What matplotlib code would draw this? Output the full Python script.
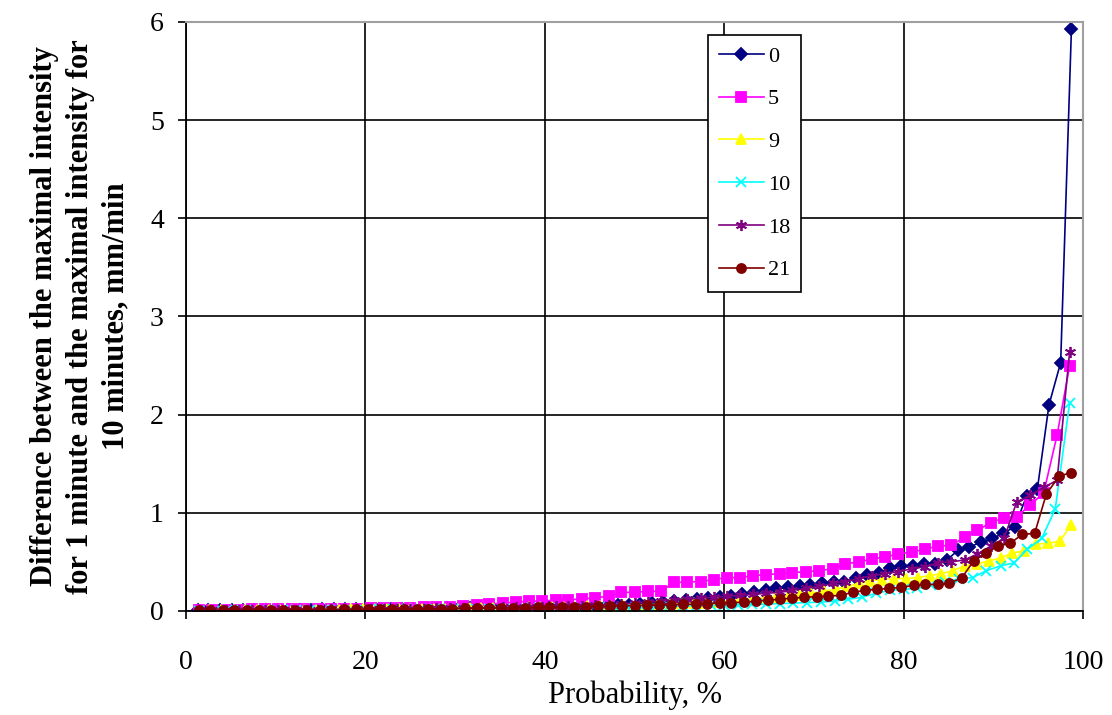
import matplotlib
matplotlib.use("Agg")
import matplotlib.pyplot as plt

plt.rcParams['font.family'] = ['Liberation Serif', 'DejaVu Serif']

# probability positions (%) for each record length
x_78 = [1.3, 2.5, 3.8, 5.1, 6.3, 7.6, 8.9, 10.1, 11.4, 12.7,
        13.9, 15.2, 16.5, 17.7, 19.0, 20.3, 21.5, 22.8, 24.1, 25.3,
        26.6, 27.8, 29.1, 30.4, 31.6, 32.9, 34.2, 35.4, 36.7, 38.0,
        39.2, 40.5, 41.8, 43.0, 44.3, 45.6, 46.8, 48.1, 49.4, 50.6,
        51.9, 53.2, 54.4, 55.7, 57.0, 58.2, 59.5, 60.8, 62.0, 63.3,
        64.6, 65.8, 67.1, 68.4, 69.6, 70.9, 72.2, 73.4, 74.7, 75.9,
        77.2, 78.5, 79.7, 81.0, 82.3, 83.5, 84.8, 86.1, 87.3, 88.6,
        89.9, 91.1, 92.4, 93.7, 94.9, 96.2, 97.5, 98.7]

x_67 = [1.5, 2.9, 4.4, 5.9, 7.4, 8.8, 10.3, 11.8, 13.2, 14.7,
        16.2, 17.6, 19.1, 20.6, 22.1, 23.5, 25.0, 26.5, 27.9, 29.4,
        30.9, 32.4, 33.8, 35.3, 36.8, 38.2, 39.7, 41.2, 42.6, 44.1,
        45.6, 47.1, 48.5, 50.0, 51.5, 52.9, 54.4, 55.9, 57.4, 58.8,
        60.3, 61.8, 63.2, 64.7, 66.2, 67.6, 69.1, 70.6, 72.1, 73.5,
        75.0, 76.5, 77.9, 79.4, 80.9, 82.4, 83.8, 85.3, 86.8, 88.2,
        89.7, 91.2, 92.6, 94.1, 95.6, 97.1, 98.5]

x_75 = [1.3, 2.6, 3.9, 5.3, 6.6, 7.9, 9.2, 10.5, 11.8, 13.2,
        14.5, 15.8, 17.1, 18.4, 19.7, 21.1, 22.4, 23.7, 25.0, 26.3,
        27.6, 28.9, 30.3, 31.6, 32.9, 34.2, 35.5, 36.8, 38.2, 39.5,
        40.8, 42.1, 43.4, 44.7, 46.1, 47.4, 48.7, 50.0, 51.3, 52.6,
        53.9, 55.3, 56.6, 57.9, 59.2, 60.5, 61.8, 63.2, 64.5, 65.8,
        67.1, 68.4, 69.7, 71.1, 72.4, 73.7, 75.0, 76.3, 77.6, 78.9,
        80.3, 81.6, 82.9, 84.2, 85.5, 86.8, 88.2, 89.5, 90.8, 92.1,
        93.4, 94.7, 96.1, 97.4, 98.7]

x_64 = [1.5, 3.1, 4.6, 6.2, 7.7, 9.2, 10.8, 12.3, 13.8, 15.4,
        16.9, 18.5, 20.0, 21.5, 23.1, 24.6, 26.2, 27.7, 29.2, 30.8,
        32.3, 33.8, 35.4, 36.9, 38.5, 40.0, 41.5, 43.1, 44.6, 46.2,
        47.7, 49.2, 50.8, 52.3, 53.8, 55.4, 56.9, 58.5, 60.0, 61.5,
        63.1, 64.6, 66.2, 67.7, 69.2, 70.8, 72.3, 73.8, 75.4, 76.9,
        78.5, 80.0, 81.5, 83.1, 84.6, 86.2, 87.7, 89.2, 90.8, 92.3,
        93.8, 95.4, 96.9, 98.5]

x_73 = [1.4, 2.7, 4.1, 5.4, 6.8, 8.1, 9.5, 10.8, 12.2, 13.5,
        14.9, 16.2, 17.6, 18.9, 20.3, 21.6, 23.0, 24.3, 25.7, 27.0,
        28.4, 29.7, 31.1, 32.4, 33.8, 35.1, 36.5, 37.8, 39.2, 40.5,
        41.9, 43.2, 44.6, 45.9, 47.3, 48.6, 50.0, 51.4, 52.7, 54.1,
        55.4, 56.8, 58.1, 59.5, 60.8, 62.2, 63.5, 64.9, 66.2, 67.6,
        68.9, 70.3, 71.6, 73.0, 74.3, 75.7, 77.0, 78.4, 79.7, 81.1,
        82.4, 83.8, 85.1, 86.5, 87.8, 89.2, 90.5, 91.9, 93.2, 94.6,
        95.9, 97.3, 98.6]

# difference between max 1-min and max 10-min intensity, mm/min
y_0 = [0.005, 0.007, 0.008, 0.009, 0.010, 0.010, 0.011, 0.012, 0.012, 0.013,
       0.014, 0.015, 0.016, 0.017, 0.018, 0.019, 0.020, 0.021, 0.022, 0.023,
       0.024, 0.025, 0.026, 0.027, 0.028, 0.029, 0.030, 0.031, 0.032, 0.033,
       0.035, 0.037, 0.040, 0.043, 0.046, 0.050, 0.055, 0.060, 0.065, 0.070,
       0.080, 0.090, 0.100, 0.110, 0.120, 0.130, 0.140, 0.150, 0.170, 0.190,
       0.210, 0.230, 0.240, 0.250, 0.260, 0.280, 0.290, 0.300, 0.340, 0.370,
       0.390, 0.440, 0.460, 0.460, 0.480, 0.480, 0.520, 0.620, 0.650, 0.700,
       0.740, 0.790, 0.860, 1.170, 1.240, 2.100, 2.530, 5.930]

y_5 = [0.010, 0.012, 0.013, 0.014, 0.015, 0.016, 0.017, 0.018, 0.019, 0.020,
       0.021, 0.022, 0.024, 0.027, 0.030, 0.032, 0.035, 0.038, 0.040, 0.045,
       0.050, 0.060, 0.070, 0.080, 0.090, 0.100, 0.100, 0.110, 0.115, 0.120,
       0.135, 0.150, 0.190, 0.190, 0.200, 0.200, 0.290, 0.295, 0.300, 0.320,
       0.340, 0.340, 0.360, 0.370, 0.380, 0.390, 0.400, 0.410, 0.430, 0.480,
       0.500, 0.530, 0.550, 0.580, 0.600, 0.630, 0.660, 0.670, 0.750, 0.820,
       0.900, 0.950, 0.960, 1.080, 1.200, 1.790, 2.500]

y_9 = [0.004, 0.005, 0.006, 0.007, 0.008, 0.009, 0.010, 0.010, 0.011, 0.012,
       0.013, 0.013, 0.014, 0.015, 0.016, 0.017, 0.018, 0.019, 0.020, 0.021,
       0.022, 0.023, 0.025, 0.026, 0.028, 0.030, 0.032, 0.034, 0.036, 0.038,
       0.040, 0.042, 0.045, 0.048, 0.050, 0.053, 0.056, 0.060, 0.063, 0.067,
       0.070, 0.075, 0.080, 0.085, 0.090, 0.100, 0.110, 0.120, 0.130, 0.140,
       0.150, 0.160, 0.180, 0.200, 0.220, 0.250, 0.280, 0.310, 0.320, 0.330,
       0.330, 0.340, 0.360, 0.380, 0.410, 0.460, 0.480, 0.510, 0.540, 0.590,
       0.610, 0.680, 0.690, 0.710, 0.880]

y_10 = [0.003, 0.004, 0.005, 0.006, 0.007, 0.008, 0.009, 0.010, 0.010, 0.011,
        0.012, 0.013, 0.014, 0.015, 0.016, 0.017, 0.018, 0.019, 0.020, 0.021,
        0.022, 0.023, 0.024, 0.025, 0.027, 0.028, 0.030, 0.032, 0.034, 0.036,
        0.038, 0.040, 0.042, 0.045, 0.047, 0.050, 0.053, 0.056, 0.060, 0.063,
        0.067, 0.070, 0.075, 0.080, 0.085, 0.090, 0.100, 0.120, 0.140, 0.180,
        0.210, 0.220, 0.230, 0.260, 0.290, 0.330, 0.340, 0.410, 0.460, 0.490,
        0.630, 0.740, 1.040, 2.120]

y_18 = [0.005, 0.006, 0.007, 0.008, 0.009, 0.010, 0.011, 0.012, 0.013, 0.014,
        0.015, 0.016, 0.017, 0.018, 0.019, 0.020, 0.022, 0.024, 0.026, 0.028,
        0.030, 0.032, 0.034, 0.036, 0.038, 0.040, 0.043, 0.046, 0.050, 0.055,
        0.060, 0.065, 0.070, 0.080, 0.090, 0.100, 0.110, 0.120, 0.130, 0.140,
        0.150, 0.160, 0.170, 0.180, 0.190, 0.210, 0.230, 0.250, 0.280, 0.300,
        0.330, 0.360, 0.380, 0.400, 0.430, 0.450, 0.490, 0.500, 0.520, 0.580,
        0.660, 0.740, 1.110, 1.180, 1.260, 1.330, 2.640]

y_21 = [0.005, 0.006, 0.007, 0.008, 0.009, 0.010, 0.010, 0.011, 0.012, 0.012,
        0.013, 0.014, 0.015, 0.016, 0.017, 0.018, 0.019, 0.020, 0.021, 0.022,
        0.023, 0.024, 0.026, 0.027, 0.029, 0.030, 0.032, 0.034, 0.036, 0.038,
        0.040, 0.042, 0.045, 0.047, 0.050, 0.052, 0.055, 0.058, 0.060, 0.063,
        0.066, 0.070, 0.075, 0.080, 0.085, 0.090, 0.100, 0.110, 0.120, 0.130,
        0.140, 0.145, 0.150, 0.160, 0.190, 0.210, 0.220, 0.230, 0.240, 0.260,
        0.270, 0.270, 0.280, 0.340, 0.510, 0.590, 0.660, 0.690, 0.780, 0.790,
        1.190, 1.370, 1.410]

labels = ['0', '5', '9', '10', '18', '21']
xs = [x_78, x_67, x_75, x_64, x_67, x_73]
ys = [y_0, y_5, y_9, y_10, y_18, y_21]
colors = ['#000080', '#FF00FF', '#FFFF00', '#00FFFF', '#800080', '#800000']
markers = ['D', 's', '^', 'x', (6, 2, 0), 'o']
msizes = [6, 6.5, 7, 6.5, 8, 6.5]

fig = plt.figure(figsize=(11.12, 7.15), dpi=100)
ax = fig.add_axes([0.1673, 0.1455, 0.8067, 0.8238])

for x, y, lab, c, m, ms in zip(xs, ys, labels, colors, markers, msizes):
    ax.plot(x, y, color=c, marker=m, markersize=ms, markeredgewidth=1.3,
            linewidth=1.2, label=lab)

ax.set_xlim(0, 100)
ax.set_ylim(0, 6)
ax.set_xticks(range(0, 101, 20))
ax.set_yticks(range(0, 7))
ax.set_axisbelow(True)
ax.grid(True, color='black', linewidth=1.2)

for side in ['left', 'bottom']:
    ax.spines[side].set_color('black')
    ax.spines[side].set_linewidth(1.3)
for side in ['top', 'right']:
    ax.spines[side].set_color('#a0a0a0')
    ax.spines[side].set_linewidth(1.5)

ax.tick_params(axis='x', direction='out', length=6, width=1.2, labelsize=20, pad=22)
ax.tick_params(axis='y', direction='out', length=6, width=1.2, labelsize=20, pad=10)

ax.set_xlabel('Probability, %', fontsize=22, labelpad=4)
ax.set_ylabel('Difference between the maximal intensity\n'
              'for 1 minute and the maximal intensity for\n'
              '10 minutes, mm/min', fontsize=22, fontweight='bold',
              linespacing=1.3, labelpad=14)

leg = ax.legend(loc='upper left', bbox_to_anchor=(0.582, 0.978), borderaxespad=0,
                fontsize=16, numpoints=1, handlelength=2.0, handletextpad=0.2,
                labelspacing=1.0, borderpad=0.5, fancybox=False, framealpha=1,
                edgecolor='black')
leg.get_frame().set_linewidth(1.2)

fig.savefig('out.png', dpi=100)
